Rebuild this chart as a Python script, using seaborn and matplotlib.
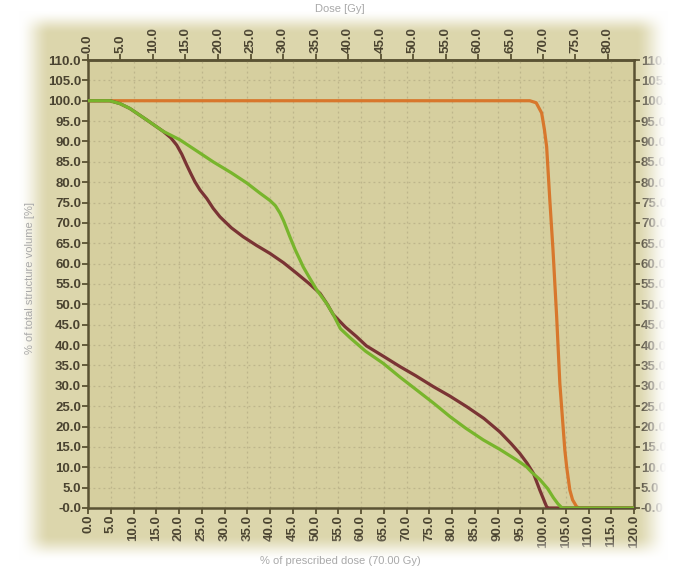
import numpy as np
import pandas as pd
import matplotlib
matplotlib.use("Agg")
import matplotlib.pyplot as plt
import seaborn as sns

# Dose-volume histogram: % of prescribed dose (70 Gy) vs % of structure volume
PRESCRIBED_GY = 70.0

ptv_dose = [0, 50, 95, 97.1, 98.5, 99.7, 100.3, 100.8, 101.5, 102.2, 103.0,
            103.7, 104.8, 105.2, 105.9, 106.5, 107.4, 108.0, 120]
ptv_vol = [100, 100, 100, 100, 99.5, 97.0, 93.0, 88.7, 75.6, 63.3, 47.0,
           30.6, 14.2, 10.1, 4.4, 2.0, 0.3, 0, 0]

oar_a_dose = [0, 4.8, 7, 9.2, 12.9, 16.5, 18.2, 19.5, 20.6, 21.7, 22.6, 23.5,
              24.6, 26.1, 27.5, 29.0, 31.5, 34.1, 37, 40.0, 43, 45.9, 48.5,
              51.0, 52.5, 53.9, 56.5, 59.0, 61.2, 65, 68.6, 72, 75.9, 79.5,
              83.2, 87, 90.5, 93, 94.9, 96.5, 97.9, 99.3, 100.8, 101.2, 120]
oar_a_vol = [100, 100, 99.3, 98.1, 95.3, 92.5, 90.9, 89.1, 86.9, 84.2, 82.1,
             80.1, 78.1, 76.0, 73.6, 71.5, 68.8, 66.6, 64.5, 62.5, 60.2, 57.6,
             55.2, 52.7, 50.2, 47.5, 44.5, 42.1, 39.8, 37.2, 34.7, 32.5, 29.8,
             27.5, 24.9, 22.0, 18.7, 15.8, 13.4, 11.0, 8.5, 4.4, 0.3, 0, 0]

oar_b_dose = [0, 4.8, 7, 9.2, 12.9, 16.5, 20.2, 24, 27.5, 31.5, 34.9, 37.8,
              40, 41.2, 42.2, 43.0, 43.7, 44.4, 45.5, 46.6, 47.3, 48.8, 50.3,
              52.4, 53.9, 55.5, 57.6, 61, 64.9, 68.5, 72.2, 76, 79.6, 83, 86.9,
              90.5, 94.2, 96.4, 97.5, 99.3, 101, 102.3, 103.3, 104.2, 120]
oar_b_vol = [100, 100, 99.3, 98.1, 95.3, 92.5, 90.4, 87.6, 85.0, 82.3, 79.8,
             77.3, 75.5, 74.2, 72.4, 70.5, 68.5, 66.5, 63.5, 60.9, 59.2, 56.3,
             53.5, 50.3, 47.5, 44.0, 41.8, 38.5, 35.5, 32.2, 29.0, 25.7, 22.4,
             19.6, 16.7, 14.4, 11.8, 10.1, 8.8, 7.0, 4.8, 2.5, 1.0, 0, 0]

structures = ["PTV", "OAR 1", "OAR 2"]
colors = ["#d8772c", "#7a3434", "#78b52c"]

y_ticks = list(range(0, 115, 5))
y_labels = ["-0.0"] + [f"{v:.1f}" for v in y_ticks[1:]]
pct_ticks = list(range(0, 125, 5))
pct_labels = [f"{v:.1f}" for v in pct_ticks]
gy_ticks = list(range(0, 85, 5))
gy_labels = [f"{v:.1f}" for v in gy_ticks]

df = pd.concat([
    pd.DataFrame({"dose": ptv_dose, "volume": ptv_vol, "structure": structures[0]}),
    pd.DataFrame({"dose": oar_a_dose, "volume": oar_a_vol, "structure": structures[1]}),
    pd.DataFrame({"dose": oar_b_dose, "volume": oar_b_vol, "structure": structures[2]}),
], ignore_index=True)

sns.set_style("ticks")
plt.rcParams["font.family"] = ["Liberation Sans", "DejaVu Sans"]

W, H = 673, 570
fig_bg = "#dcd6ac"
face = "#d6cf9f"
ink = "#4a4330"
spine_c = "#5a5233"
tick_fs = 9.5

fig = plt.figure(figsize=(W / 100, H / 100), dpi=100, facecolor=fig_bg)
ax = fig.add_axes([88 / W, 62 / H, 546 / W, 448 / H])
ax.set_facecolor(face)

sns.lineplot(data=df, x="dose", y="volume", hue="structure",
             palette=dict(zip(structures, colors)), sort=False,
             estimator=None, legend=False, linewidth=2.3, ax=ax, zorder=3)

ax.set_xlim(0, 120)
ax.set_ylim(0, 110)
ax.set_xlabel("")
ax.set_ylabel("")

ax.set_xticks(pct_ticks)
ax.set_xticklabels(pct_labels, rotation=90)
ax.set_yticks(y_ticks)
ax.set_yticklabels(y_labels)

ax.grid(True, color="#bdb58b", linestyle=(0, (1.5, 2.5)), linewidth=0.9)
ax.tick_params(axis="both", colors=spine_c, labelcolor=ink, length=4,
               width=1.3, labelsize=tick_fs, pad=1)
ax.tick_params(axis="y", right=True, labelright=True)
for lab in ax.get_xticklabels() + ax.get_yticklabels():
    lab.set_fontweight("bold")
for s in ax.spines.values():
    s.set_color(spine_c)
    s.set_linewidth(1.8)
    s.set_visible(True)

top = ax.secondary_xaxis("top", functions=(lambda p: p * PRESCRIBED_GY / 100,
                                           lambda d: d * 100 / PRESCRIBED_GY))
top.set_xticks(gy_ticks)
top.set_xticklabels(gy_labels, rotation=90)
top.tick_params(colors=spine_c, labelcolor=ink, length=4, width=1.3,
                labelsize=tick_fs, pad=1)
for lab in top.get_xticklabels():
    lab.set_fontweight("bold")
top.spines["top"].set_color(spine_c)
top.spines["top"].set_linewidth(1.8)

# soft white fade around the panel edges
yy, xx = np.mgrid[0:H, 0:W].astype(float)


def ramp(v):
    v = np.clip(v, 0, 1)
    return v * v * (3 - 2 * v)


a_left = ramp((50 - xx) / 32)
a_right = ramp((xx - 634) / 34)
a_top = ramp((34 - yy) / 24)
a_bot = ramp((yy - 534) / 26)
alpha = 1 - (1 - a_left) * (1 - a_right) * (1 - a_top) * (1 - a_bot)
rgba = np.ones((H, W, 4))
rgba[..., 3] = alpha

ov = fig.add_axes([0, 0, 1, 1], zorder=10)
ov.imshow(rgba, aspect="auto", interpolation="bilinear")
ov.set_axis_off()

label_c = "#a9a9a9"
fig.text(340 / W, 1 - 9 / H, "Dose [Gy]", ha="center", va="center",
         fontsize=8, color=label_c, zorder=20)
fig.text(30 / W, 1 - 278 / H, "% of total structure volume [%]", ha="center",
         va="center", rotation=90, fontsize=8, color=label_c, zorder=20)
fig.text(340 / W, 1 - 561 / H, "% of prescribed dose (70.00 Gy)", ha="center",
         va="center", fontsize=8, color=label_c, zorder=20)

fig.savefig("out.png", dpi=100, facecolor=fig_bg)
